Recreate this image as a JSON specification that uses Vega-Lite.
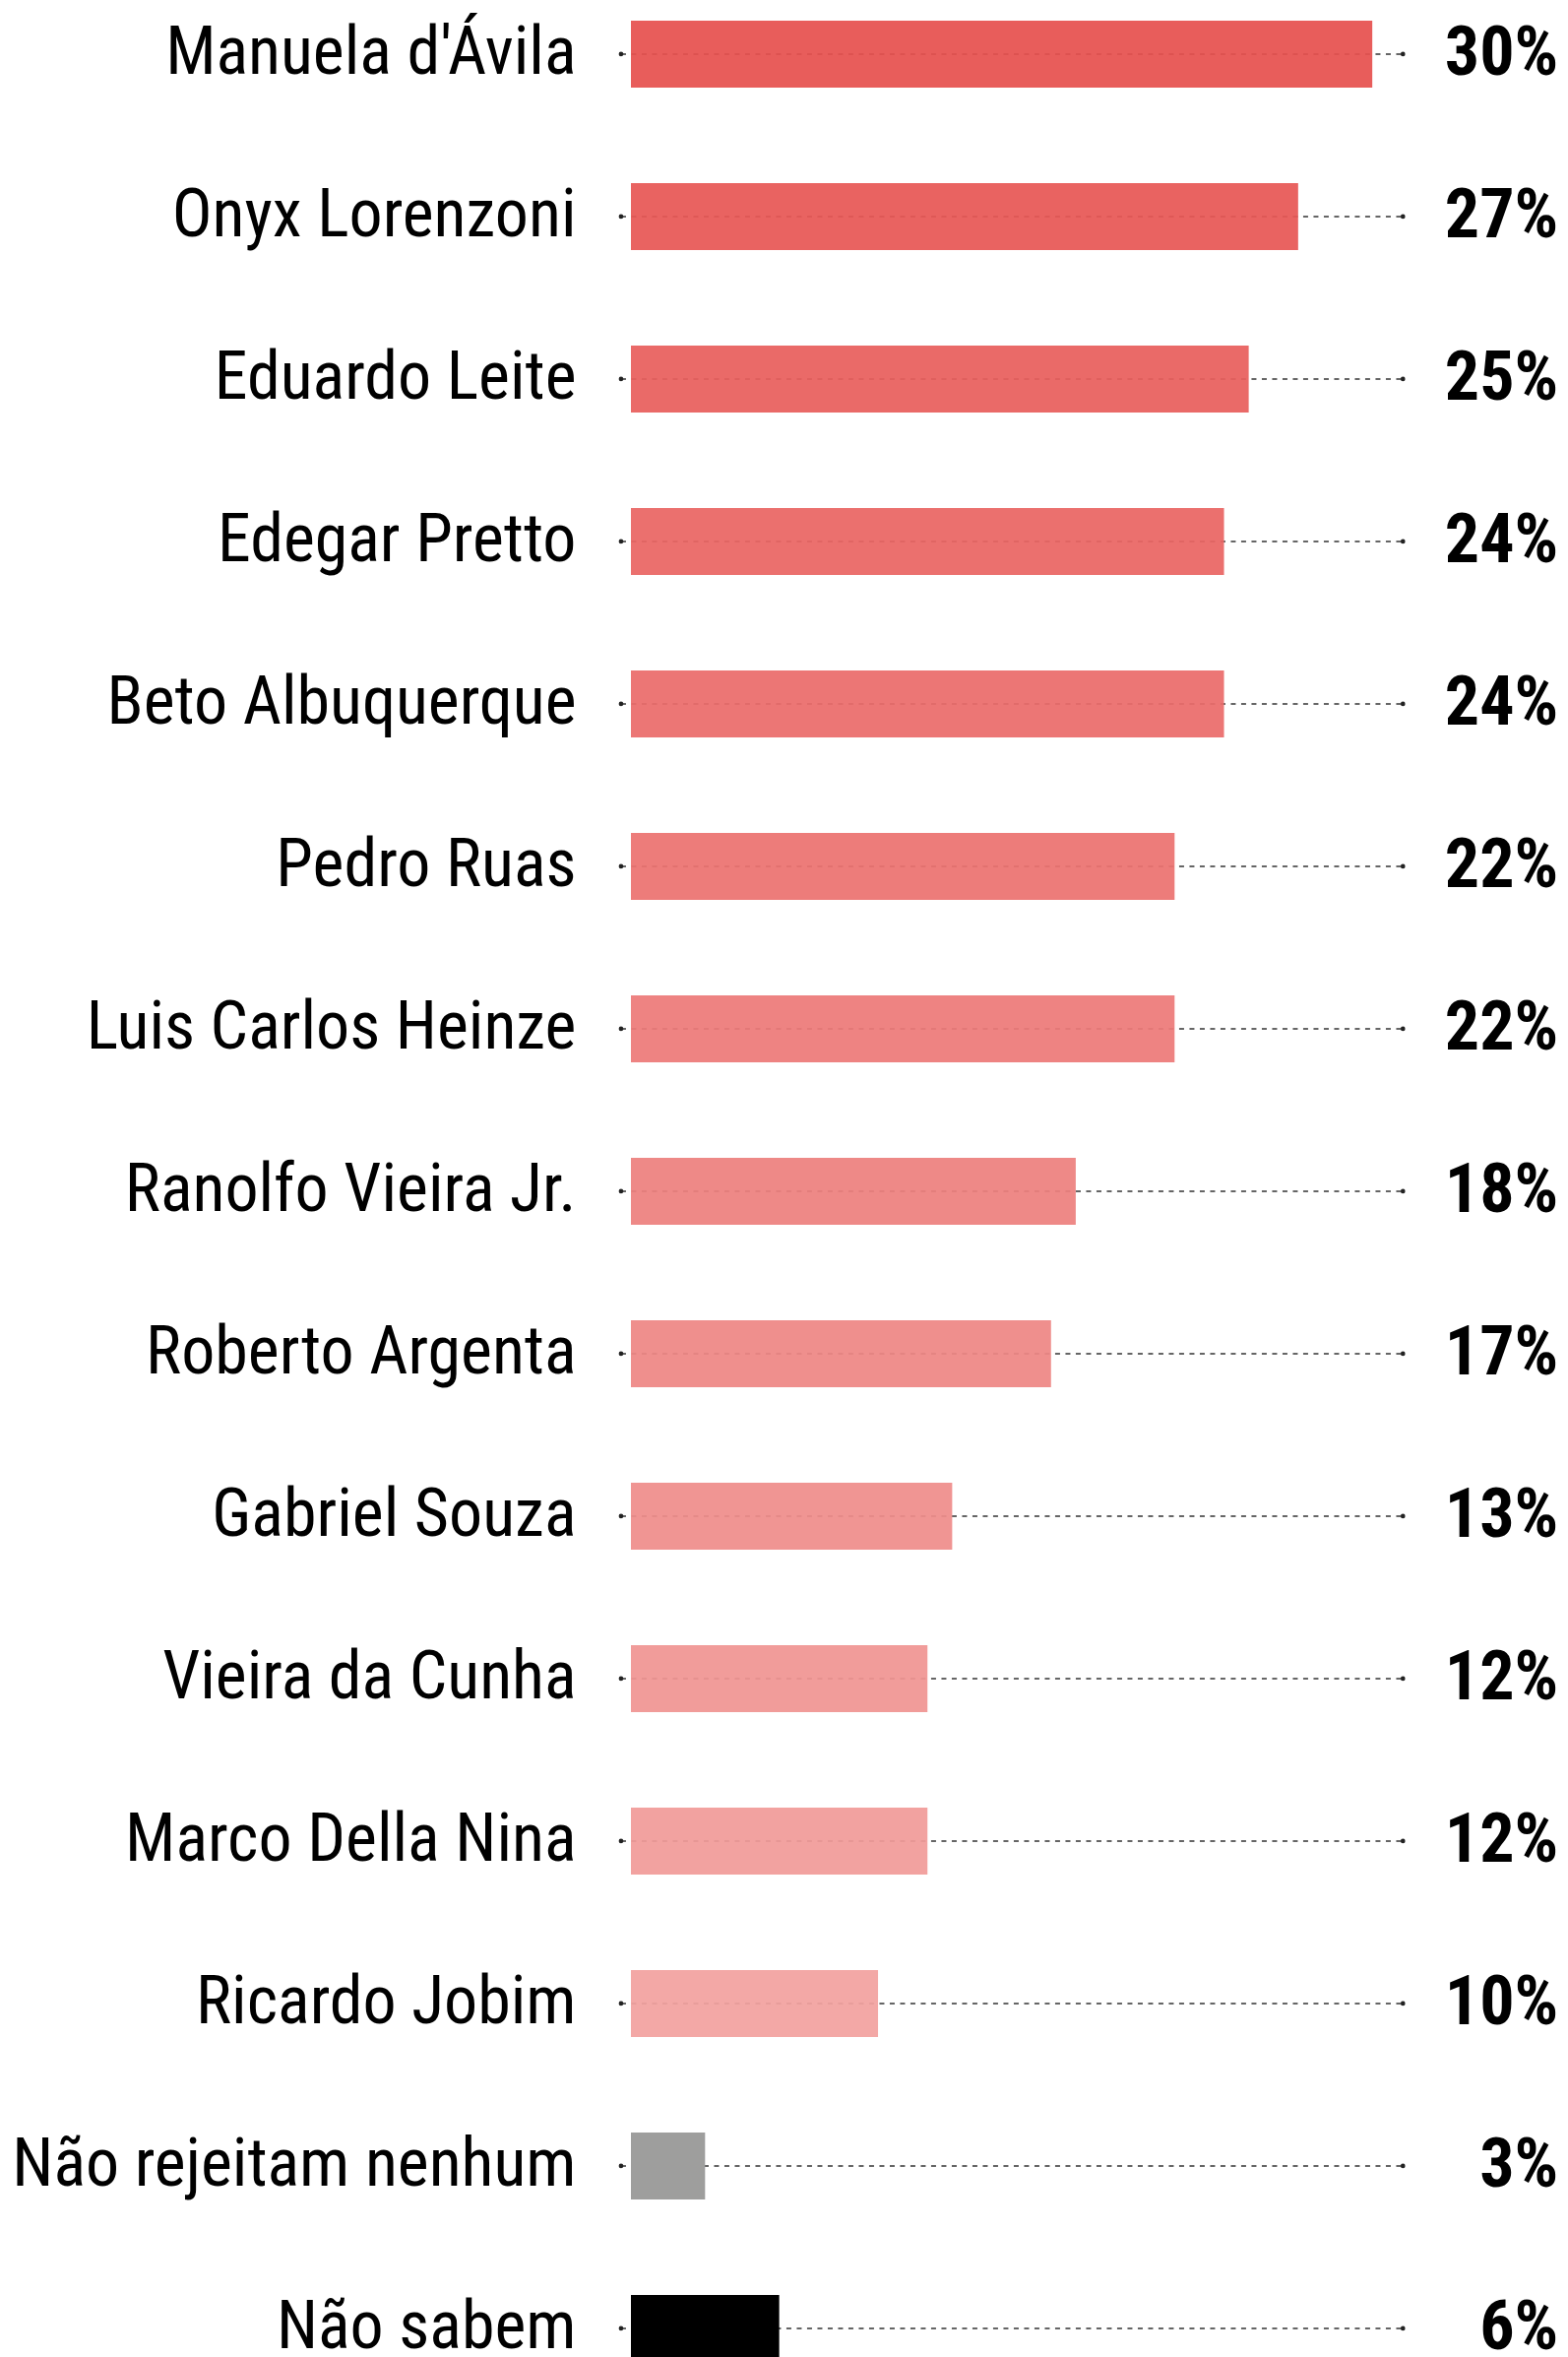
{
  "$schema": "https://vega.github.io/schema/vega-lite/v6.json",
  "width": 954,
  "height": {"step": 165},
  "autosize": {"type": "none"},
  "padding": {"left": 641, "top": 0, "right": 0, "bottom": 0},
  "background": "white",
  "config": {"view": {"stroke": null}},
  "data": {
    "values": [
      {"name": "Manuela d'Ávila", "value": 30, "label": "30%"},
      {"name": "Onyx Lorenzoni", "value": 27, "label": "27%"},
      {"name": "Eduardo Leite", "value": 25, "label": "25%"},
      {"name": "Edegar Pretto", "value": 24, "label": "24%"},
      {"name": "Beto Albuquerque", "value": 24, "label": "24%"},
      {"name": "Pedro Ruas", "value": 22, "label": "22%"},
      {"name": "Luis Carlos Heinze", "value": 22, "label": "22%"},
      {"name": "Ranolfo Vieira Jr.", "value": 18, "label": "18%"},
      {"name": "Roberto Argenta", "value": 17, "label": "17%"},
      {"name": "Gabriel Souza", "value": 13, "label": "13%"},
      {"name": "Vieira da Cunha", "value": 12, "label": "12%"},
      {"name": "Marco Della Nina", "value": 12, "label": "12%"},
      {"name": "Ricardo Jobim", "value": 10, "label": "10%"},
      {"name": "Não rejeitam nenhum", "value": 3, "label": "3%"},
      {"name": "Não sabem", "value": 6, "label": "6%"}
    ]
  },
  "encoding": {
    "y": {
      "field": "name",
      "type": "nominal",
      "sort": null,
      "scale": {"paddingInner": 0.588, "paddingOuter": 0.127},
      "axis": {
        "title": null,
        "domain": false,
        "ticks": false,
        "tickSize": 0,
        "labelPadding": 56,
        "labelFont": "Roboto Condensed, Open Sans Condensed, Noto Sans Condensed, Roboto",
        "labelFontSize": 68,
        "labelColor": "#000",
        "labelLimit": 1000
      }
    }
  },
  "layer": [
    {
      "mark": {"type": "rule", "strokeDash": [5, 5.5], "strokeWidth": 2, "color": "#000", "opacity": 0.6},
      "encoding": {
        "x": {"datum": -0.4, "type": "quantitative", "scale": {"domain": [0, 38], "nice": false}, "axis": null},
        "x2": {"datum": 31.24}
      }
    },
    {
      "mark": {"type": "bar"},
      "encoding": {
        "x": {"field": "value", "type": "quantitative", "scale": {"domain": [0, 38], "nice": false}, "axis": null},
        "color": {
          "field": "name",
          "type": "nominal",
          "legend": null,
          "scale": {
            "domain": ["Manuela d'Ávila", "Onyx Lorenzoni", "Eduardo Leite", "Edegar Pretto", "Beto Albuquerque", "Pedro Ruas", "Luis Carlos Heinze", "Ranolfo Vieira Jr.", "Roberto Argenta", "Gabriel Souza", "Vieira da Cunha", "Marco Della Nina", "Ricardo Jobim", "Não rejeitam nenhum", "Não sabem"],
            "range": ["#e6514f", "#e75755", "#e85f5d", "#e96563", "#eb6c6a", "#ec7270", "#ed7a78", "#ed807e", "#ee8784", "#ef8d8b", "#f09592", "#f19b99", "#f2a19f", "#9e9e9d", "#000000"]
          }
        },
        "opacity": {
          "field": "name",
          "type": "nominal",
          "legend": null,
          "scale": {
            "type": "ordinal",
            "domain": ["Manuela d'Ávila", "Onyx Lorenzoni", "Eduardo Leite", "Edegar Pretto", "Beto Albuquerque", "Pedro Ruas", "Luis Carlos Heinze", "Ranolfo Vieira Jr.", "Roberto Argenta", "Gabriel Souza", "Vieira da Cunha", "Marco Della Nina", "Ricardo Jobim", "Não rejeitam nenhum", "Não sabem"],
            "range": [0.93, 0.93, 0.93, 0.93, 0.93, 0.93, 0.93, 0.93, 0.93, 0.93, 0.93, 0.93, 0.93, 1, 1]
          }
        }
      }
    },
    {
      "mark": {"type": "circle", "size": 22, "color": "#222", "opacity": 1},
      "encoding": {"x": {"datum": -0.4, "type": "quantitative", "scale": {"domain": [0, 38], "nice": false}, "axis": null}}
    },
    {
      "mark": {"type": "circle", "size": 22, "color": "#222", "opacity": 1},
      "encoding": {"x": {"datum": 31.24, "type": "quantitative", "scale": {"domain": [0, 38], "nice": false}, "axis": null}}
    },
    {
      "mark": {"type": "text", "align": "right", "baseline": "middle", "font": "Roboto Condensed, Open Sans Condensed, Noto Sans Condensed, Roboto", "fontWeight": "bold", "fontSize": 70, "color": "#000"},
      "encoding": {
        "x": {"datum": 37.53, "type": "quantitative", "scale": {"domain": [0, 38], "nice": false}, "axis": null},
        "text": {"field": "label"}
      }
    }
  ]
}
